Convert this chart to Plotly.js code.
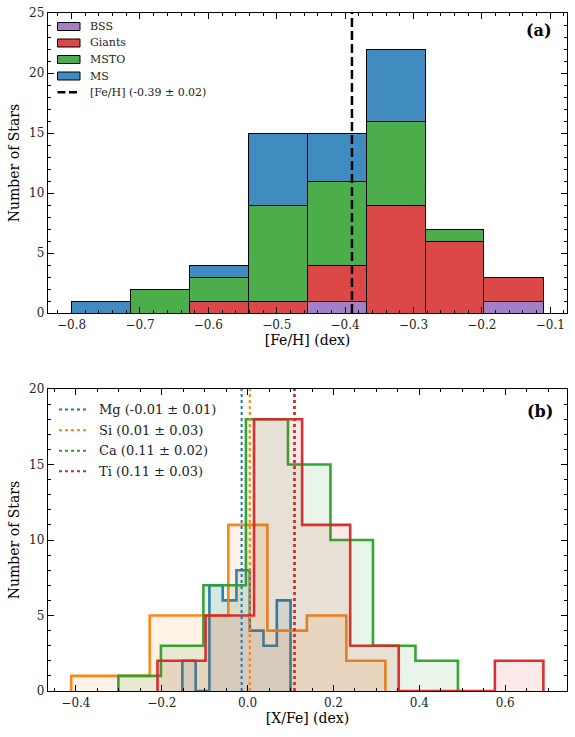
<!DOCTYPE html>
<html><head><meta charset="utf-8">
<script src="https://cdn.plot.ly/plotly-3.0.1.min.js"></script>
<style>html,body{margin:0;padding:0;background:#fff}#chart{width:575px;height:737px}</style>
</head><body><div id="chart"></div>
<script>
// ---- Panel (a): [Fe/H] stacked histogram ----
const feEdges = [-0.800, -0.714, -0.628, -0.541, -0.455, -0.369, -0.283, -0.197, -0.110];
const bssCounts    = [0, 0, 0, 0, 1, 0, 0, 1];
const giantsCounts = [0, 0, 1, 1, 3, 9, 6, 2];
const mstoCounts   = [0, 2, 2, 8, 7, 7, 1, 0];
const msCounts     = [1, 0, 1, 6, 4, 6, 0, 0];
const groupNames = ['BSS', 'Giants', 'MSTO', 'MS'];
const feMean = -0.39;
const feLabel = '[Fe/H] (-0.39 ± 0.02)';
const topYRange = [0, 25];

// ---- Panel (b): [X/Fe] step histograms ----
const mgEdges = [-0.152, -0.121, -0.089, -0.058, -0.026, 0.005, 0.037, 0.068, 0.100];
const mgCounts = [2, 0, 7, 6, 8, 4, 3, 6];
const siEdges = [-0.411, -0.320, -0.228, -0.137, -0.045, 0.046, 0.138, 0.230, 0.321];
const siCounts = [1, 1, 5, 5, 11, 4, 5, 2];
const caEdges = [-0.301, -0.202, -0.103, -0.004, 0.094, 0.193, 0.292, 0.391, 0.490];
const caCounts = [1, 3, 7, 18, 15, 10, 3, 2];
const tiEdges = [-0.210, -0.098, 0.015, 0.127, 0.239, 0.352, 0.464, 0.576, 0.689];
const tiCounts = [2, 5, 18, 11, 3, 0, 0, 2];
const elemNames  = ['Mg', 'Si', 'Ca', 'Ti'];
const elemMeans  = [-0.014, 0.005, 0.108, 0.110];
const elemLabels = ['Mg (-0.01 ± 0.01)', 'Si (0.01 ± 0.03)', 'Ca (0.11 ± 0.02)', 'Ti (0.11 ± 0.03)'];
const botYRange = [0, 20];

const FONT = 'DejaVu Serif, serif';
const W = 575, HT = 737, ML = 48, MR = 8, MT = 13, MB = 46;
const PW = W - ML - MR, PH = HT - MT - MB;
const px = v => (v - ML) / PW;          // pixel -> paper x
const py = v => (HT - MB - v) / PH;     // pixel -> paper y

function centers(e){ const c=[]; for(let i=0;i<e.length-1;i++) c.push((e[i]+e[i+1])/2); return c; }
function widths(e){ const w=[]; for(let i=0;i<e.length-1;i++) w.push(e[i+1]-e[i]); return w; }
function stepXY(edges, counts){
  const x=[edges[0]], y=[0];
  for(let i=0;i<counts.length;i++){ x.push(edges[i]); y.push(counts[i]); }
  x.push(edges[edges.length-1]); y.push(0);
  return {x, y};
}

const groupCounts = [bssCounts, giantsCounts, mstoCounts, msCounts];
const groupColors = ['rgba(148,103,189,0.85)', 'rgba(214,39,40,0.85)', 'rgba(44,160,44,0.85)', 'rgba(31,119,180,0.85)'];

const traces = [];
groupNames.forEach((name, i) => {
  traces.push({
    type: 'bar', name, x: centers(feEdges), y: groupCounts[i], width: widths(feEdges),
    xaxis: 'x', yaxis: 'y', showlegend: false, hoverinfo: 'skip',
    marker: {color: groupColors[i], line: {color: 'black', width: 1}}
  });
});
traces.push({
  type: 'scatter', mode: 'lines', name: feLabel, x: [feMean, feMean], y: topYRange,
  xaxis: 'x', yaxis: 'y', showlegend: false, hoverinfo: 'skip',
  line: {color: 'black', width: 2.5, dash: '9px,4px'}
});

const elemRGB = [[31,119,180],[255,127,14],[44,160,44],[214,39,40]];
const elemData = [[mgEdges, mgCounts],[siEdges, siCounts],[caEdges, caCounts],[tiEdges, tiCounts]];
elemData.forEach(([e, c], i) => {
  const s = stepXY(e, c);
  const [r,g,b] = elemRGB[i];
  traces.push({
    type: 'scatter', mode: 'lines', name: elemNames[i], x: s.x, y: s.y, xaxis: 'x2', yaxis: 'y2',
    showlegend: false, hoverinfo: 'skip',
    line: {shape: 'hv', color: `rgba(${r},${g},${b},0.95)`, width: 2.6},
    fill: 'tozeroy', fillcolor: `rgba(${r},${g},${b},0.1)`
  });
});
elemMeans.forEach((m, i) => {
  const [r,g,b] = elemRGB[i];
  traces.push({
    type: 'scatter', mode: 'lines', name: elemLabels[i], x: [m, m], y: botYRange,
    xaxis: 'x2', yaxis: 'y2', showlegend: false, hoverinfo: 'skip',
    line: {color: `rgb(${r},${g},${b})`, width: 2, dash: 'dot'}
  });
});

// ---- hand-built legends (matplotlib-style patches) ----
const shapes = [], annotations = [];
const topRows = [26.5, 43, 59.5, 76, 92.3];
groupNames.forEach((name, i) => {
  shapes.push({type: 'rect', xref: 'paper', yref: 'paper',
    x0: px(57.5), x1: px(80), y0: py(topRows[i] + 4), y1: py(topRows[i] - 4),
    fillcolor: groupColors[i], line: {color: 'black', width: 1}});
  annotations.push({text: name, xref: 'paper', yref: 'paper', x: px(87.5), y: py(topRows[i]),
    xanchor: 'left', yanchor: 'middle', showarrow: false, font: {family: FONT, size: 11, color: '#222'}});
});
shapes.push({type: 'line', xref: 'paper', yref: 'paper', x0: px(57.5), x1: px(80.5),
  y0: py(topRows[4]), y1: py(topRows[4]), line: {color: 'black', width: 2.5, dash: '8px,3.5px'}});
annotations.push({text: feLabel, xref: 'paper', yref: 'paper', x: px(87.5), y: py(topRows[4]),
  xanchor: 'left', yanchor: 'middle', showarrow: false, font: {family: FONT, size: 11, color: '#222'}});

const botRows = [409.6, 430.2, 450.8, 471.3];
elemLabels.forEach((lab, i) => {
  const [r,g,b] = elemRGB[i];
  shapes.push({type: 'line', xref: 'paper', yref: 'paper', x0: px(59), x1: px(86.5),
    y0: py(botRows[i]), y1: py(botRows[i]), line: {color: `rgb(${r},${g},${b})`, width: 2, dash: 'dot'}});
  annotations.push({text: lab, xref: 'paper', yref: 'paper', x: px(96.5), y: py(botRows[i]),
    xanchor: 'left', yanchor: 'middle', showarrow: false, font: {family: FONT, size: 13, color: '#222'}});
});
annotations.push({text: '<b>(a)</b>', xref: 'x domain', yref: 'y domain', x: 0.974, y: 0.943,
  xanchor: 'right', yanchor: 'middle', showarrow: false, font: {family: FONT, size: 16, color: 'black'}});
annotations.push({text: '<b>(b)</b>', xref: 'x2 domain', yref: 'y2 domain', x: 0.976, y: 0.925,
  xanchor: 'right', yanchor: 'middle', showarrow: false, font: {family: FONT, size: 16, color: 'black'}});

const axBase = {
  showline: true, linecolor: 'black', linewidth: 1.2, mirror: 'allticks',
  ticks: 'inside', ticklen: 6, tickwidth: 1, tickcolor: 'black',
  showgrid: false, zeroline: false,
  tickfont: {family: FONT, size: 12, color: '#222'}
};
const layout = {
  width: W, height: HT,
  margin: {l: ML, r: MR, t: MT, b: MB},
  paper_bgcolor: 'white', plot_bgcolor: 'white',
  font: {family: FONT, color: 'black'},
  showlegend: false,
  barmode: 'stack', bargap: 0,
  xaxis: Object.assign({}, axBase, {
    domain: [0, 1], anchor: 'y', range: [-0.8345, -0.0755], dtick: 0.1, tick0: 0,
    tickformat: '.1f', minor: {dtick: 0.02, tick0: 0, ticks: 'inside', ticklen: 3, tickcolor: 'black'},
    title: {text: '[Fe/H] (dex)', font: {family: FONT, size: 14}, standoff: 2}
  }),
  yaxis: Object.assign({}, axBase, {
    domain: [py(313), 1], anchor: 'x', range: topYRange, dtick: 5,
    minor: {dtick: 1, ticks: 'inside', ticklen: 3, tickcolor: 'black'},
    title: {text: 'Number of Stars', font: {family: FONT, size: 14}, standoff: 6}
  }),
  xaxis2: Object.assign({}, axBase, {
    domain: [0, 1], anchor: 'y2', range: [-0.465, 0.744], dtick: 0.2, tick0: 0,
    tickformat: '.1f', minor: {dtick: 0.05, tick0: 0, ticks: 'inside', ticklen: 3, tickcolor: 'black'},
    title: {text: '[X/Fe] (dex)', font: {family: FONT, size: 14}, standoff: 2}
  }),
  yaxis2: Object.assign({}, axBase, {
    domain: [0, py(389)], anchor: 'x2', range: botYRange, dtick: 5,
    minor: {dtick: 1, ticks: 'inside', ticklen: 3, tickcolor: 'black'},
    title: {text: 'Number of Stars', font: {family: FONT, size: 14}, standoff: 6}
  }),
  shapes, annotations
};
Plotly.newPlot('chart', traces, layout, {staticPlot: true, displayModeBar: false});
</script>
</body></html>
